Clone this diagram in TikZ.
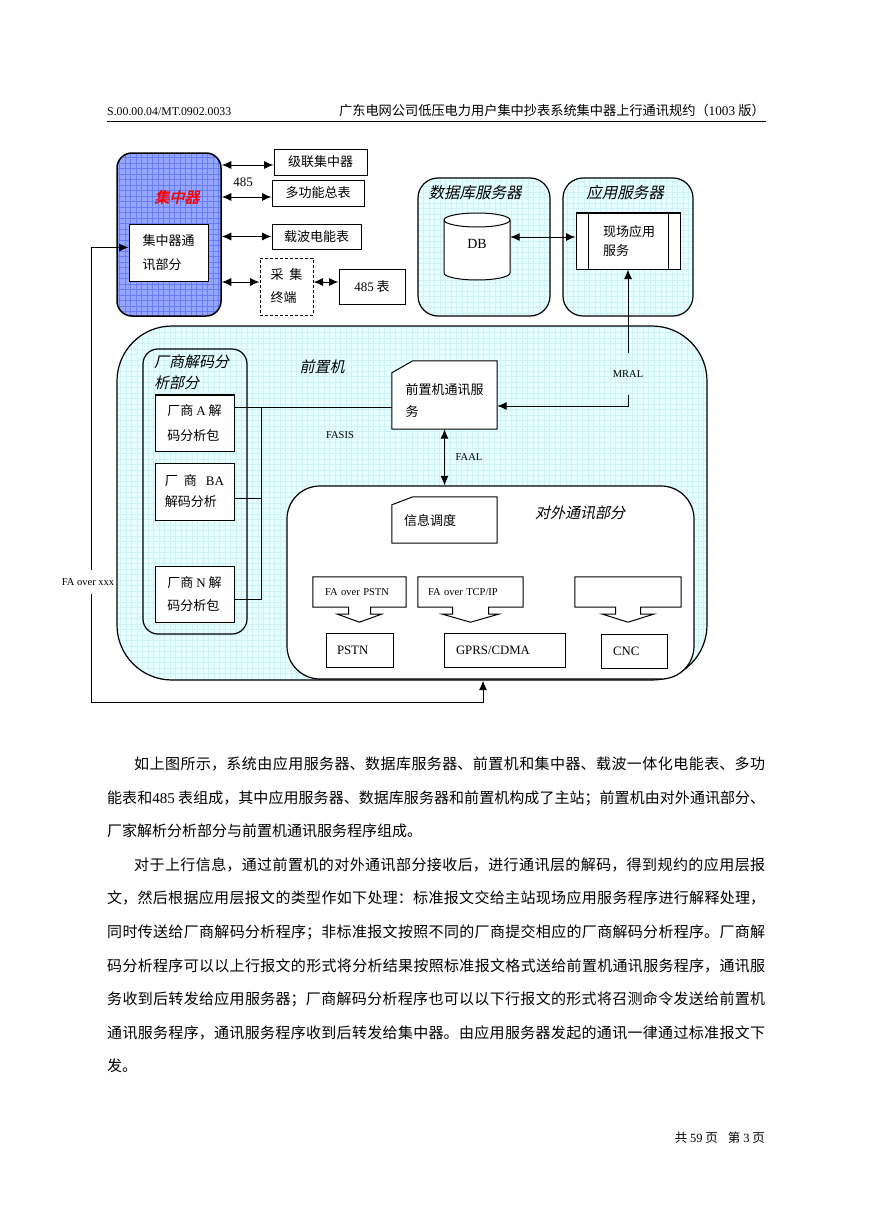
\documentclass[tikz,border=0pt]{standalone}
\usepackage{fontspec}
\setmainfont{Noto Sans CJK SC}
\newfontfamily\lat{Liberation Serif}
\newfontfamily\cjkit[FakeSlant=0.22]{Noto Sans CJK SC}
\newfontfamily\cjkbi[FakeSlant=0.22,FakeBold=2]{Noto Sans CJK SC}
\usetikzlibrary{arrows.meta,calc}
\XeTeXlinebreaklocale "zh"
\XeTeXlinebreakskip=0pt plus 1.5pt
\newcommand\fsz[2]{\fontsize{#1}{#2}\selectfont}
\newcommand\lsk[1]{\XeTeXlinebreakskip=#1\relax}
\definecolor{bluefill}{RGB}{148,166,255}
\definecolor{bluegrid}{RGB}{105,125,248}
\definecolor{cyanfill}{RGB}{230,254,254}
\definecolor{cyangrid}{RGB}{207,242,246}
\newcommand\blockarrow[3]{%
  \draw[ln] (#1.north west) -- (#1.north east) -- (#1.south east) -- ($(#1.south)+(#2,0)$) -- ($(#1.south)+(#2,7)$) -- ($(#1.south)+(#3,7)$) -- ($(#1.south)+(0,15)$) -- ($(#1.south)+(-#3,7)$) -- ($(#1.south)+(-#2,7)$) -- ($(#1.south)+(-#2,0)$) -- (#1.south west) -- cycle;}
\newcommand\mycard[3]{%
  \draw[ln,fill=white] (#1.south west) -- ($(#1.north west)+(0,#2)$) -- ($(#1.north west)+(#3,0)$) -- (#1.north east) -- (#1.south east) -- cycle;}
\begin{document}
\begin{tikzpicture}[x=1pt,y=-1pt,
  ln/.style={line width=1pt},
  arr/.style={line width=1pt,{Latex[length=9.5pt,width=8pt]}-{Latex[length=9.5pt,width=8pt]}},
  ar/.style={line width=1pt,-{Latex[length=9.5pt,width=8pt]}},
  box/.style={draw,line width=1pt,fill=white,inner sep=0pt},
  bluebox/.style={draw,line width=1.5pt,fill=bluefill,rounded corners=15pt,inner sep=0pt,
    path picture={\draw[bluegrid,line width=0.5pt,step=5.5pt] (path picture bounding box.south west) grid (path picture bounding box.north east);}},
  cyanbox/.style={draw,line width=1.2pt,fill=cyanfill,inner sep=0pt,
    path picture={\draw[cyangrid,line width=0.5pt,step=5.5pt] (path picture bounding box.south west) grid (path picture bounding box.north east);}},
  lab/.style={font=\lat\fsz{10.5}{12},inner sep=0pt},
  itl/.style={font=\cjkit\fsz{15}{21},inner sep=0pt},
  cj/.style={font=\fsz{13}{15},inner sep=0pt}
]
\useasboundingbox[fill=white] (0,0) rectangle (869,1228);

% header
\node[anchor=base west,inner sep=0pt,font=\lat\fsz{11.8}{14}] (hl) at (107,116) {S.00.00.04/MT.0902.0033};
\node[anchor=base east,inner sep=0pt,font=\fsz{13.2}{15}] (hr) at (765,116) {广东电网公司低压电力用户集中抄表系统集中器上行通讯规约（{\lat 1003 }版）};
\draw[line width=1pt] (107,122) -- (766,122);

% concentrator
\node[bluebox,minimum width=104pt,minimum height=163pt] (conc) at (169,234.5) {};
\node[font=\cjkbi\fsz{15}{18},text=red,inner sep=0pt] (conct) at (177,197) {集中器};
\node[box,minimum width=79pt,minimum height=57pt,align=left,font={\fsz{13}{24}\lsk{1.5pt}}] (comm) at (168.5,252.5) {集中器通\\讯部分};

\node[box,minimum width=93pt,minimum height=26pt,font={\fsz{13}{15}}] (casc) at (320.5,162) {级联集中器};
\node[box,minimum width=92pt,minimum height=26pt,font={\fsz{13}{15}}] (multi) at (318,193) {多功能总表};
\node[box,minimum width=89pt,minimum height=25pt,font={\fsz{13}{15}}] (carr) at (316.5,236.5) {载波电能表};
\node[box,dash pattern=on 3pt off 2pt,minimum width=53pt,minimum height=57pt,align=left,font={\fsz{13}{23}}] (acq) at (286.5,286.5) {采\hspace{6pt}集\\终端};
\node[box,minimum width=66pt,minimum height=35pt,font={\fsz{13}{15}}] (t485) at (372,286.5) {{\lat 485} 表};
\node[font=\lat\fsz{13}{15},inner sep=0pt] (l485) at (243,182) {485};

\path ($(casc.west)+(0,3)$) coordinate (ca);
\draw[arr] (conc.east |- ca) -- (ca);
\path ($(multi.west)+(0,4)$) coordinate (ma);
\draw[arr] (conc.east |- ma) -- (ma);
\draw[arr] (conc.east |- carr.west) -- (carr.west);
\path ($(acq.west)+(0,-4.5)$) coordinate (qa);
\draw[arr] (conc.east |- qa) -- (qa);
\path ($(t485.west)+(0,-4.5)$) coordinate (ta);
\draw[arr] (acq.east |- ta) -- (ta);

% servers
\node[cyanbox,rounded corners=20pt,minimum width=132pt,minimum height=138pt] (dbs) at (484,247) {};
\node[cyanbox,rounded corners=20pt,minimum width=130pt,minimum height=138pt] (asrv) at (628,247) {};
\node[font=\cjkit\fsz{15.5}{18},inner sep=0pt] (dbsl) at (475,193) {数据库服务器};
\node[font=\cjkit\fsz{15.5}{18},inner sep=0pt] (asrvl) at (625,193) {应用服务器};
\path[draw,line width=1pt,fill=white] (444,220) -- (444,273) arc[start angle=180,end angle=360,x radius=33pt,y radius=7pt] -- (510,220) arc[start angle=0,end angle=180,x radius=33pt,y radius=7pt] -- cycle;
\draw[line width=1pt] (444,220) arc[start angle=180,end angle=360,x radius=33pt,y radius=7pt];
\node[minimum width=66pt,minimum height=20pt,inner sep=0pt,font=\lat\fsz{14}{16}] (db) at (477,244) {DB};
\node[box,minimum width=104pt,minimum height=56pt] (app) at (628,241) {};
\draw[line width=1.6pt] (app.north west) -- (app.north east);
\draw[ln] ($(app.north west)+(13,0)$) -- ($(app.south west)+(13,0)$);
\draw[ln] ($(app.north east)+(-12,0)$) -- ($(app.south east)+(-12,0)$);
\node[font={\fsz{13}{18.5}\lsk{3pt}},align=left,inner sep=0pt] (appt) at (629,241) {现场应用\\服务};
\path ($(db.east)+(0,-7)$) coordinate (dbe);
\draw[arr] (dbe) -- (dbe -| app.west);

% front end
\node[cyanbox,rounded corners=55pt,minimum width=590pt,minimum height=354pt] (fe) at (412,503) {};
\node[itl] (fel) at (322,367) {前置机};
\node[draw,line width=1.2pt,rounded corners=15pt,minimum width=104pt,minimum height=285pt,inner sep=0pt] (vg) at (195,491.5) {};
\node[anchor=west,align=left,inner sep=0pt,font={\cjkit\fsz{15}{21}\lsk{1.8pt}}] (vgl) at (154,372.5) {厂商解码分\\析部分};
\node[box,minimum width=79pt,minimum height=56pt,align=left,font={\fsz{13}{25}\lsk{1pt}}] (vA) at (194.5,423) {厂商 {\lat A} 解\\码分析包};
\draw[line width=1.6pt] (vA.north west) -- (vA.north east);
\node[box,minimum width=79pt,minimum height=57pt,align=left,font={\fsz{13}{21}\lsk{2pt}}] (vBA) at (194.5,491.5) {厂\hspace{6pt}商\hspace{9pt}{\lat BA}\\解码分析};
\node[box,minimum width=79pt,minimum height=56pt,align=left,font={\fsz{13}{23}\lsk{1pt}}] (vN) at (194.5,594) {厂商 {\lat N} 解\\码分析包};

\node[minimum width=105pt,minimum height=68pt,inner sep=0pt] (fes) at (444.5,395) {};
\mycard{fes}{12}{21}
\node[align=left,inner sep=0pt,font={\fsz{13}{22}\lsk{1pt}}] (fest) at (444.5,401) {前置机通讯服\\务};

\path ($(vA.east)+(0,-16)$) coordinate (pA);
\draw[ln] (pA) -- (pA -| fes.west);
\path ($(pA)+(27,0)$) coordinate (bus);
\path ($(vBA.east)+(0,6.5)$) coordinate (pB);
\path ($(vN.east)+(0,5)$) coordinate (pN);
\draw[ln] (pB) -- (pB -| bus);
\draw[ln] (pN) -- (pN -| bus);
\draw[ln] (bus) -- (pN -| bus);
\node[lab] (fasis) at (340,435) {FASIS};

% external comm part
\node[draw,line width=1.2pt,fill=white,rounded corners=33pt,minimum width=407pt,minimum height=193pt,inner sep=0pt] (ext) at (490.5,582.5) {};
\node[itl] (extl) at (580,513) {对外通讯部分};
\draw[arr] (fes.south) -- (fes.south |- ext.north);
\node[lab] (faal) at (469,457) {FAAL};

\node[minimum width=105pt,minimum height=46pt,inner sep=0pt] (sched) at (444.5,520) {};
\mycard{sched}{8}{21}
\node[anchor=west,inner sep=0pt,font={\fsz{13}{15}}] (schedt) at (404,521) {信息调度};

\node[minimum width=93pt,minimum height=30pt,text width=69pt,inner xsep=12pt,inner ysep=0pt,align=left,font=\lat\fsz{10.5}{12}] (fa1) at (359.5,592) {FA over PSTN};
\blockarrow{fa1}{11}{22}
\node[minimum width=105pt,minimum height=30pt,text width=85pt,inner xsep=10pt,inner ysep=0pt,align=left,font=\lat\fsz{10.5}{12}] (fa2) at (470.5,592) {FA over TCP/IP};
\blockarrow{fa2}{18}{28}
\node[minimum width=106pt,minimum height=30pt,inner sep=0pt] (fa3) at (628,592) {};
\blockarrow{fa3}{12.5}{25.5}

\node[box,minimum width=67pt,minimum height=34pt,text width=45pt,inner xsep=11pt,align=left,font=\lat\fsz{12.8}{15}] (pstn) at (359.5,650) {PSTN};
\node[box,minimum width=121pt,minimum height=34pt,text width=97pt,inner xsep=12pt,align=left,font=\lat\fsz{12.8}{15}] (gprs) at (504.5,650) {GPRS/CDMA};
\node[box,minimum width=66pt,minimum height=34pt,text width=42pt,inner xsep=12pt,align=left,font=\lat\fsz{12.8}{15}] (cnc) at (634,651) {CNC};

% MRAL
\node[lab,minimum height=42pt] (mral) at (628,374) {MRAL};
\draw[ar] (mral.north) -- (app.south);
\path ($(fes.east)+(0,11)$) coordinate (fe2);
\draw[ar] (mral.south) |- (fe2);

% loop arrow
\coordinate (k1) at (91,702);
\coordinate (k2) at (483,702);
\path ($(comm.west)+(0,-5)$) coordinate (cw);
\draw[arr] (cw) -| (k1) -- (k2) -- (k2 |- fe.south);
\node[fill=white,inner xsep=1pt,inner ysep=0pt,minimum height=24pt,font=\lat\fsz{10.5}{12}] (faxxx) at (88,582) {FA over xxx};

% body text
\node[anchor=north west,inner sep=0pt,text width=658pt,align=justify,font=\fsz{15}{33.6}] (p1) at (107,756.5) {\hspace*{27pt}如上图所示，系统由应用服务器、数据库服务器、前置机和集中器、载波一体化电能表、多功\linebreak 能表和{\lat 485} 表组成，其中应用服务器、数据库服务器和前置机构成了主站；前置机由对外通讯部分、\linebreak 厂家解析分析部分与前置机通讯服务程序组成。};
\node[anchor=north west,inner sep=0pt,text width=658pt,align=justify,font=\fsz{15}{33.6}] (p2) at (107,857.3) {\hspace*{27pt}对于上行信息，通过前置机的对外通讯部分接收后，进行通讯层的解码，得到规约的应用层报\linebreak 文，然后根据应用层报文的类型作如下处理：标准报文交给主站现场应用服务程序进行解释处理，\linebreak 同时传送给厂商解码分析程序；非标准报文按照不同的厂商提交相应的厂商解码分析程序。厂商解\linebreak 码分析程序可以以上行报文的形式将分析结果按照标准报文格式送给前置机通讯服务程序，通讯服\linebreak 务收到后转发给应用服务器；厂商解码分析程序也可以以下行报文的形式将召测命令发送给前置机\linebreak 通讯服务程序，通讯服务程序收到后转发给集中器。由应用服务器发起的通讯一律通过标准报文下\linebreak 发。};

% footer
\node[anchor=east,inner sep=0pt,font=\fsz{12.5}{15}] (foot) at (765,1138) {共 {\lat 59} 页\hspace{10pt}第 {\lat 3} 页};
\end{tikzpicture}
\end{document}
